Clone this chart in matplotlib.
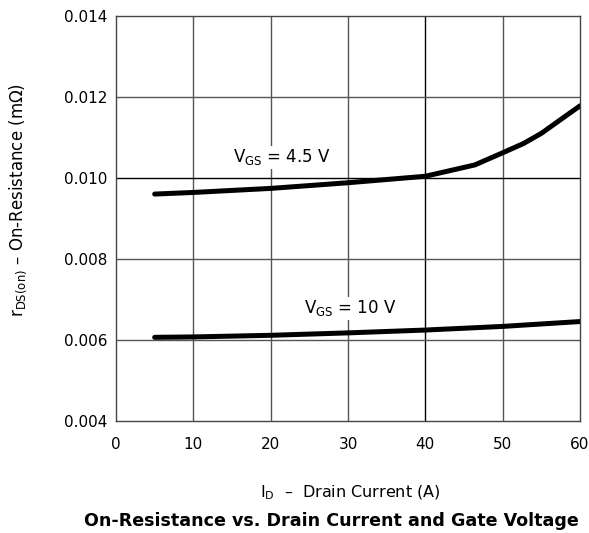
import matplotlib
matplotlib.use("Agg")
import matplotlib.pyplot as plt

plt.rcParams['font.family'] = ['DejaVu Sans']
plt.rcParams['mathtext.fontset'] = 'dejavusans'

# Data
id_45 = [5, 10, 20, 30, 40, 46.4, 50, 52.7, 55, 58.3, 60]
r_45 = [0.00960, 0.00964, 0.00974, 0.00988, 0.01004, 0.01032, 0.01062, 0.01085, 0.01110, 0.01155, 0.01178]
id_10 = [5, 10, 20, 30, 40, 50, 60]
r_10 = [0.00606, 0.00607, 0.00611, 0.00617, 0.00624, 0.00633, 0.00645]
xticks = [0, 10, 20, 30, 40, 50, 60]
yticks = [0.004, 0.006, 0.008, 0.010, 0.012, 0.014]

W, H = 589, 533
fig = plt.figure(figsize=(W / 100, H / 100), dpi=100)
ax = fig.add_axes([116 / W, 1 - 420.7 / H, (580 - 116) / W, (420.7 - 16) / H])

ax.set_xlim(0, 60)
ax.set_ylim(0.004, 0.014)
ax.set_xticks(xticks)
ax.set_yticks(yticks)
ax.set_xticklabels([str(v) for v in xticks])
ax.set_yticklabels(["%.3f" % v for v in yticks])
ax.tick_params(length=0, labelsize=11, colors='black')
ax.tick_params(axis='x', pad=12)
ax.tick_params(axis='y', pad=6)

for v in xticks[1:-1]:
    ax.axvline(v, color='black' if v == 40 else '#555555', lw=1.0, zorder=1)
for v in yticks[1:-1]:
    ax.axhline(v, color='black' if abs(v - 0.010) < 1e-9 else '#555555', lw=1.0, zorder=1)
for s in ax.spines.values():
    s.set_color('#444444')
    s.set_linewidth(1.0)

ax.plot(id_45, r_45, color='black', lw=3.6, solid_capstyle='round', solid_joinstyle='round', zorder=3)
ax.plot(id_10, r_10, color='black', lw=3.6, solid_capstyle='round', solid_joinstyle='round', zorder=3)

bb = dict(facecolor='white', edgecolor='none', pad=1)
ax.text(21.4, 0.01051, r'V$_{\rm GS}$ = 4.5 V', fontsize=12, ha='center', va='center', bbox=bb, zorder=2)
ax.text(30.3, 0.00678, r'V$_{\rm GS}$ = 10 V', fontsize=12, ha='center', va='center', bbox=bb, zorder=2)

fig.text(350 / W, 1 - 493 / H, r'I$_{\rm D}$  –  Drain Current (A)', fontsize=11.5, ha='center', va='center')
fig.text(18 / W, 1 - 200 / H, r'r$_{\rm DS(on)}$ – On-Resistance (m$\Omega$)', fontsize=12,
         ha='center', va='center', rotation=90)
fig.text(84 / W, 1 - 521 / H, 'On-Resistance vs. Drain Current and Gate Voltage', fontsize=12.6,
         fontweight='bold', ha='left', va='center')

fig.savefig('out.png', dpi=100)
